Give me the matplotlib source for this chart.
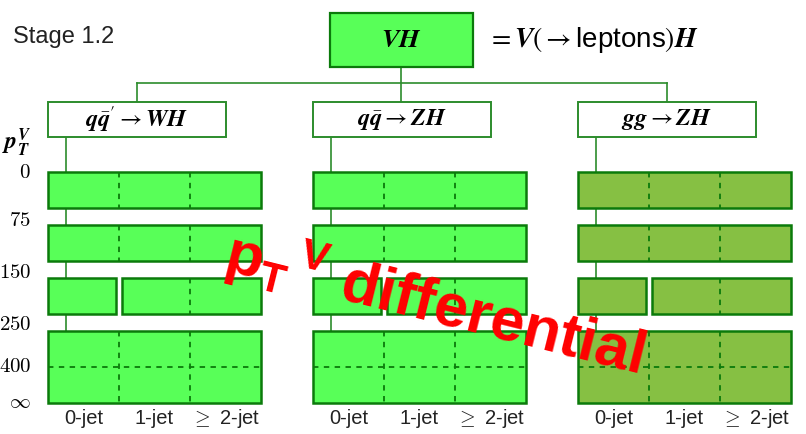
import matplotlib.pyplot as plt
from matplotlib.patches import Rectangle

plt.rcParams['mathtext.fontset'] = 'cm'
plt.rcParams['mathtext.bf'] = 'Liberation Sans:bold'
plt.rcParams['mathtext.rm'] = 'Liberation Sans'
plt.rcParams['mathtext.it'] = 'Liberation Sans:italic'
plt.rcParams['font.family'] = ['Liberation Sans', 'DejaVu Sans']

# Data
processes = [r"$\mathbfit{q}\bar{\mathbfit{q}}' \to \mathbfit{WH}$", r"$\mathbfit{q}\bar{\mathbfit{q}} \to \mathbfit{ZH}$",
             r"$\mathbfit{gg} \to \mathbfit{ZH}$"]
pt_edges = [r"$\mathbf{0}$", r"$\mathbf{75}$", r"$\mathbf{150}$", r"$\mathbf{250}$", r"$\mathbf{400}$", r"$\infty$"]
jet_bins = ["0-jet", "1-jet", r"$\geq$ 2-jet"]
split_rows = [False, False, True, False]   # 0-jet separated from >=1-jet
sub_rows = [False, False, False, True]     # split at 400

# Layout (pixel units)
green = '#58ff58'
olive = '#86c043'
edge = '#0b7a0b'
line_c = '#2c8c2c'
block_left = [48, 313, 578]
block_fill = [green, green, olive]
col_w = 71
row_top = [172, 225, 278, 331]
row_h = [36, 36, 36, 72]
label_y = [173, 220, 272, 324, 367, 402]

fig = plt.figure(figsize=(8.06, 4.34), dpi=100)
ax = fig.add_axes([0, 0, 1, 1])
ax.set_xlim(0, 806)
ax.set_ylim(434, 0)
ax.axis('off')

ax.text(13, 37, "Stage 1.2", fontsize=17, ha='left', va='center', color='#222222')

# top box
ax.add_patch(Rectangle((330, 13), 143, 54, facecolor=green, edgecolor=edge, lw=1.6, zorder=3))
ax.text(401, 40, r"$\mathbfit{VH}$", fontsize=19, ha='center', va='center', zorder=4,
        math_fontfamily='stix')
ax.text(487, 40, r"$= \mathbfit{V}(\to$leptons$)\mathbfit{H}$", fontsize=20,
        ha='left', va='center', math_fontfamily='stix')

# connectors
ax.plot([401, 401], [67, 102], color=line_c, lw=1.2, zorder=1)
ax.plot([137, 667], [83, 83], color=line_c, lw=1.2, zorder=1)
ax.plot([137, 137], [83, 102], color=line_c, lw=1.2, zorder=1)
ax.plot([667, 667], [83, 102], color=line_c, lw=1.2, zorder=1)

for b, (x0, fill, proc) in enumerate(zip(block_left, block_fill, processes)):
    ax.add_patch(Rectangle((x0, 102), 178, 35, facecolor='white', edgecolor=line_c, lw=1.4, zorder=3))
    ax.text(x0 + 89, 119.5, proc, fontsize=17.5, ha='center', va='center', zorder=4,
            math_fontfamily='stix')
    ax.plot([x0 + 18, x0 + 18], [137, row_top[-1]], color=line_c, lw=1.2, zorder=1)
    w = 3 * col_w
    for r, (yt, h) in enumerate(zip(row_top, row_h)):
        if split_rows[r]:
            ax.add_patch(Rectangle((x0, yt), 68, h, facecolor=fill, edgecolor=edge, lw=1.8, zorder=3))
            ax.add_patch(Rectangle((x0 + 74, yt), w - 74, h, facecolor=fill, edgecolor=edge, lw=1.8, zorder=3))
            ax.plot([x0 + 2 * col_w] * 2, [yt, yt + h], color=edge, lw=1.3, ls=(0, (3, 3)), zorder=4)
        else:
            ax.add_patch(Rectangle((x0, yt), w, h, facecolor=fill, edgecolor=edge, lw=1.8, zorder=3))
            for c in (1, 2):
                ax.plot([x0 + c * col_w] * 2, [yt, yt + h], color=edge, lw=1.3, ls=(0, (3, 3)), zorder=4)
        if sub_rows[r]:
            ax.plot([x0, x0 + w], [yt + h / 2] * 2, color=edge, lw=1.3, ls=(0, (3, 3)), zorder=4)
    for c, jl in enumerate(jet_bins):
        ax.text(x0 + (c + 0.5) * col_w, 419, jl, fontsize=14.5, ha='center', va='center', color='#222222')

# pT axis labels
ax.text(16, 143, r"$\mathbfit{p}_{\mathbfit{T}}^{\mathbfit{V}}$", fontsize=17, ha='center', va='center',
        math_fontfamily='stix')
for lab, y in zip(pt_edges, label_y):
    ax.text(31, y, lab, fontsize=15, ha='right', va='center')

# watermark
ax.text(222, 270, r"$\mathbf{p_T}^{\,\mathbf{V}}$ differential", fontsize=44, fontweight='bold',
        color='#ff0000', rotation=-14, rotation_mode='anchor', ha='left', va='baseline',
        math_fontfamily='custom', zorder=10)

fig.savefig('out.png', dpi=100)
